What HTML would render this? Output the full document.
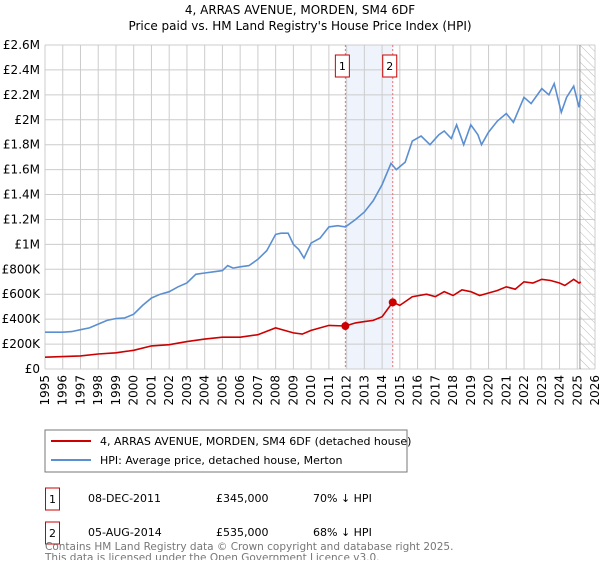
<!DOCTYPE html>
<html><head><meta charset="utf-8"><style>
body{margin:0;background:#fff;font-family:"DejaVu Sans","Liberation Sans",sans-serif;}
svg text{font-family:"DejaVu Sans","Liberation Sans",sans-serif;}
</style></head><body>
<svg id="c" width="600" height="560" xmlns="http://www.w3.org/2000/svg">
<text x="300" y="14" text-anchor="middle" font-size="12">4, ARRAS AVENUE, MORDEN, SM4 6DF</text>
<text x="300" y="30" text-anchor="middle" font-size="12">Price paid vs. HM Land Registry's House Price Index (HPI)</text>
<defs><pattern id="hatch" width="6" height="6" patternUnits="userSpaceOnUse" patternTransform="rotate(-45)"><line x1="0" y1="0" x2="0" y2="6" stroke="#bbb" stroke-width="1"/></pattern></defs>
<g id="grid"></g><g id="marks"></g>
<rect x="45" y="430" width="362" height="42" fill="#fff" stroke="#777"/>
<line x1="51" y1="441" x2="91" y2="441" stroke="#cc0000" stroke-width="2"/>
<text x="100" y="445" font-size="11">4, ARRAS AVENUE, MORDEN, SM4 6DF (detached house)</text>
<line x1="51" y1="460" x2="91" y2="460" stroke="#5b8fd1" stroke-width="2"/>
<text x="100" y="464" font-size="11">HPI: Average price, detached house, Merton</text>
<rect x="45.5" y="488" width="14" height="22" fill="#fff" stroke="#cc0000"/>
<text x="52.5" y="503" font-size="11" text-anchor="middle">1</text>
<text x="88" y="502" font-size="11">08-DEC-2011</text>
<text x="216" y="502" font-size="11">£345,000</text>
<text x="313" y="502" font-size="11">70% ↓ HPI</text>
<rect x="45.5" y="522" width="14" height="22" fill="#fff" stroke="#cc0000"/>
<text x="52.5" y="537" font-size="11" text-anchor="middle">2</text>
<text x="88" y="536" font-size="11">05-AUG-2014</text>
<text x="216" y="536" font-size="11">£535,000</text>
<text x="313" y="536" font-size="11">68% ↓ HPI</text>
<text x="45" y="550" font-size="10.5" fill="#777">Contains HM Land Registry data © Crown copyright and database right 2025.</text>
<text x="45" y="561" font-size="10.5" fill="#777">This data is licensed under the Open Government Licence v3.0.</text>
</svg>
<script>
const hpiDates=[1995,1996,1996.5,1997,1997.5,1998,1998.5,1999,1999.5,2000,2000.5,2001,2001.5,2002,2002.5,2003,2003.5,2004,2004.5,2005,2005.3,2005.6,2006,2006.5,2007,2007.5,2008,2008.3,2008.7,2009,2009.3,2009.6,2010,2010.5,2011,2011.5,2011.93,2012.5,2013,2013.5,2014,2014.5,2014.8,2015.3,2015.7,2016.2,2016.7,2017.2,2017.5,2017.9,2018.2,2018.6,2019,2019.4,2019.6,2020,2020.5,2021,2021.4,2022,2022.4,2023,2023.4,2023.7,2024.1,2024.4,2024.8,2025.1,2025.2];
const hpiValues=[295,295,300,315,330,360,390,405,410,440,510,570,600,620,660,690,760,770,780,790,830,810,820,830,880,950,1080,1090,1090,1000,960,890,1010,1050,1140,1150,1140,1200,1260,1350,1480,1650,1600,1660,1830,1870,1800,1880,1910,1850,1960,1800,1960,1880,1800,1900,1990,2050,1980,2180,2130,2250,2200,2290,2060,2180,2270,2100,2200];
const priceDates=[1995,1997,1998,1999,2000,2001,2002,2003,2004,2005,2006,2007,2008,2009,2009.5,2010,2011,2011.93,2012.5,2013,2013.5,2014,2014.6,2015,2015.7,2016.5,2017,2017.5,2018,2018.5,2019,2019.5,2020,2020.5,2021,2021.5,2022,2022.5,2023,2023.5,2024,2024.3,2024.8,2025.1,2025.2];
const priceValues=[95,105,120,130,150,185,195,220,240,255,255,275,330,290,280,310,350,345,370,380,390,420,535,510,580,600,580,620,590,635,620,590,610,630,660,640,700,690,720,710,690,670,720,690,700];
const saleDates=[2011.93,2014.6];
const saleValues=[345,535];
const yTicks=[0,200,400,600,800,1000,1200,1400,1600,1800,2000,2200,2400,2600];
const yLabels=["£0","£200K","£400K","£600K","£800K","£1M","£1.2M","£1.4M","£1.6M","£1.8M","£2M","£2.2M","£2.4M","£2.6M"];
const xYears=[];for(let y=1995;y<=2026;y++)xYears.push(y);
const X0=45,X1=595,Y0=369,Y1=45;
const xs=t=>X0+(t-1995)/(2026-1995)*(X1-X0);
const ys=v=>Y0-v/2600*(Y0-Y1);
const NS="http://www.w3.org/2000/svg";
function mk(tag,attrs,parent){const e=document.createElementNS(NS,tag);for(const k in attrs)e.setAttribute(k,attrs[k]);parent.appendChild(e);return e;}
const g=document.getElementById('grid'),m=document.getElementById('marks');
let e=mk('rect',{x:xs(2011.93),y:Y1,width:xs(2014.6)-xs(2011.93),height:Y0-Y1,fill:'#eef3fc'},g);


e=mk('rect',{x:xs(2025.15),y:Y1,width:X1-xs(2025.15),height:Y0-Y1,fill:'url(#hatch)'},g);


yTicks.forEach((v,i)=>{
 e=mk('line',{x1:X0,x2:X1,y1:ys(v),y2:ys(v),stroke:'#ccc'},g);
 
 
 const t=mk('text',{x:X0-5,y:ys(v)+4,'text-anchor':'end','font-size':12},g);t.textContent=yLabels[i];
 
 
});
xYears.forEach(y=>{
 e=mk('line',{x1:xs(y),x2:xs(y),y1:Y1,y2:Y0,stroke:'#ccc'},g);
 
 
 const t=mk('text',{x:0,y:0,'text-anchor':'end','font-size':12,transform:`translate(${xs(y)+4},${Y0+6}) rotate(-90)`},g);t.textContent=y;
 
 
});
e=mk('line',{x1:xs(2025.15),x2:xs(2025.15),y1:Y1,y2:Y0,stroke:'#999'},g);


saleDates.forEach((d,i)=>{
 e=mk('line',{x1:xs(d),x2:xs(d),y1:Y1,y2:Y0,stroke:'#f07070','stroke-dasharray':'2,2'},m);
 
 
 e=mk('rect',{x:xs(d)-10,y:55,width:14,height:22,fill:'#fff',stroke:'#cc0000'},m);
 
 
 const t=mk('text',{x:xs(d)-3,y:70,'text-anchor':'middle','font-size':11},m);t.textContent=i+1;
 
 
});
const path=(d,v)=>d.map((t,i)=>(i?'L':'M')+xs(t).toFixed(1)+','+ys(v[i]).toFixed(1)).join('');
e=mk('path',{d:path(hpiDates,hpiValues),fill:'none',stroke:'#5b8fd1','stroke-width':1.6},m);


e=mk('path',{d:path(priceDates,priceValues),fill:'none',stroke:'#cc0000','stroke-width':1.6},m);


saleDates.forEach((d,i)=>{
 e=mk('circle',{cx:xs(d),cy:ys(saleValues[i]),r:4,fill:'#cc0000'},m);
 
 
});
</script>
</body></html>
